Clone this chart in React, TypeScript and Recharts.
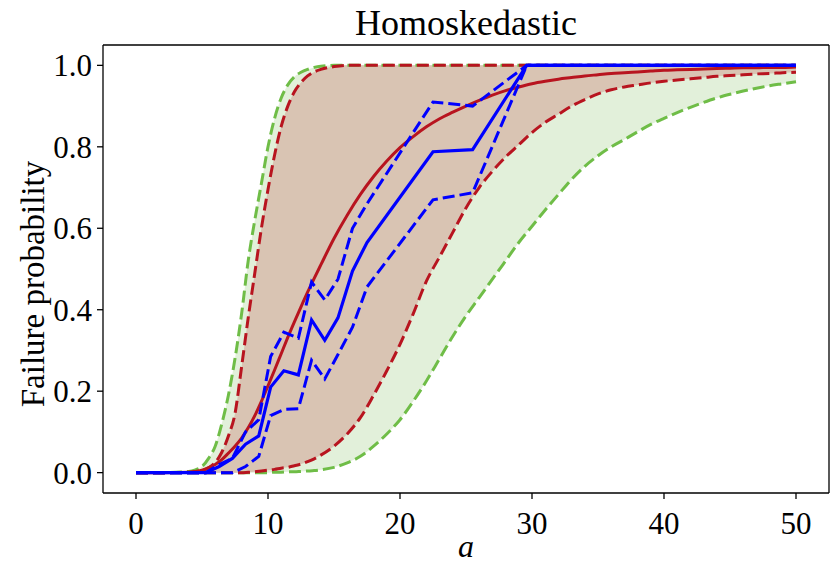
import React from 'react';
import { ComposedChart, Line, Area, XAxis, YAxis, ReferenceLine } from 'recharts';

const curveX = [0, 2, 4, 4.5, 5, 5.5, 6, 6.5, 7, 7.5, 8, 8.5, 9, 9.5, 10, 10.5, 11, 11.5, 12, 12.5, 13, 13.5, 14,
  15, 16, 17, 18, 19, 20, 21, 22, 23, 24, 25, 26, 27, 28, 29, 30, 31, 32, 33, 34, 35, 36, 37, 38, 39, 40, 41, 42, 43, 44, 45, 46, 47, 48, 49, 50];

const greenUpper = [0, 0, 0.003, 0.007, 0.015, 0.035, 0.065, 0.12, 0.19, 0.28, 0.39, 0.52, 0.62, 0.71, 0.8, 0.87, 0.92, 0.952, 0.972, 0.983, 0.99, 0.995, 0.998,
  1, 1, 1, 1, 1, 1, 1, 1, 1, 1, 1, 1, 1, 1, 1, 1, 1, 1, 1, 1, 1, 1, 1, 1, 1, 1, 1, 1, 1, 1, 1, 1, 1, 1, 1, 1];

const redUpper = [0, 0, 0.001, 0.002, 0.005, 0.012, 0.025, 0.05, 0.09, 0.145, 0.26, 0.38, 0.49, 0.6, 0.695, 0.78, 0.85, 0.9, 0.935, 0.958, 0.974, 0.984, 0.99,
  0.997, 1, 1, 1, 1, 1, 1, 1, 1, 1, 1, 1, 1, 1, 1, 1, 1, 1, 1, 1, 1, 1, 1, 1, 1, 1, 1, 1, 1, 1, 1, 1, 1, 1, 1, 1];

const redMedian = [0, 0, 0.001, 0.003, 0.006, 0.012, 0.02, 0.032, 0.048, 0.065, 0.085, 0.11, 0.14, 0.175, 0.213, 0.252, 0.292, 0.332, 0.37, 0.407, 0.443, 0.477, 0.51,
  0.575, 0.632, 0.683, 0.727, 0.765, 0.798, 0.825, 0.849, 0.869, 0.885, 0.9, 0.914, 0.927, 0.938, 0.947, 0.955, 0.961, 0.966, 0.97, 0.974, 0.977, 0.98, 0.982, 0.984, 0.986, 0.988, 0.989, 0.99, 0.991, 0.992, 0.993, 0.994, 0.994, 0.995, 0.995, 0.996];

const redLower = [0, 0, 0, 0, 0, 0, 0, 0, 0, 0, 0, 0.001, 0.002, 0.004, 0.006, 0.008, 0.011, 0.013, 0.017, 0.021, 0.027, 0.034, 0.043,
  0.065, 0.095, 0.135, 0.19, 0.25, 0.315, 0.39, 0.47, 0.53, 0.59, 0.65, 0.7, 0.74, 0.775, 0.805, 0.835, 0.86, 0.88, 0.9, 0.916, 0.93, 0.94, 0.947, 0.952, 0.957, 0.961, 0.964, 0.967, 0.97, 0.973, 0.975, 0.977, 0.979, 0.98, 0.982, 0.983];

const greenLower = [0, 0, 0, 0, 0, 0, 0, 0, 0, 0, 0, 0, 0, 0, 0, 0.001, 0.001, 0.002, 0.002, 0.003, 0.004, 0.005, 0.007,
  0.013, 0.024, 0.04, 0.065, 0.095, 0.13, 0.175, 0.225, 0.28, 0.335, 0.385, 0.43, 0.475, 0.52, 0.565, 0.605, 0.645, 0.683, 0.72, 0.752, 0.778, 0.8, 0.818, 0.837, 0.855, 0.87, 0.884, 0.897, 0.909, 0.92, 0.929, 0.937, 0.944, 0.95, 0.955, 0.96];

const blueX = [0, 5.3, 6.3, 7.3, 8.3, 9.3, 10.2, 11.2, 12.3, 13.3, 14.3, 15.3, 16.4, 17.5, 22.5, 25.5, 29.6, 50];
const blueMid = [0, 0, 0.015, 0.035, 0.07, 0.09, 0.21, 0.25, 0.24, 0.375, 0.325, 0.38, 0.495, 0.565, 0.788, 0.793, 1, 1];
const blueHigh = [0, 0, 0.02, 0.035, 0.1, 0.13, 0.285, 0.345, 0.33, 0.468, 0.424, 0.475, 0.6, 0.66, 0.91, 0.9, 1, 1];
const blueLow = [0, 0, 0, 0, 0.015, 0.04, 0.14, 0.155, 0.157, 0.276, 0.23, 0.29, 0.357, 0.456, 0.67, 0.687, 1, 1];

const xTicks = [0, 10, 20, 30, 40, 50];
const yTicks = [0, 0.2, 0.4, 0.6, 0.8, 1.0];

const curveData = curveX.map((x, i) => ({
  x,
  gU: greenUpper[i],
  gL: greenLower[i],
  rU: redUpper[i],
  rL: redLower[i],
  rM: redMedian[i],
  gBand: [greenLower[i], greenUpper[i]],
  rBand: [redLower[i], redUpper[i]],
}));

const blueData = blueX.map((x, i) => ({ x, mid: blueMid[i], hi: blueHigh[i], lo: blueLow[i] }));

const FONT = '"Liberation Serif", "DejaVu Serif", serif';
const GREEN = '#6fbd47';
const RED = '#b8141f';
const BLUE = '#0000ff';
const DASH = '12 5';

export default function App() {
  const tickStyle = { fontSize: 31, fill: '#000', fontFamily: FONT };
  return (
    <div style={{ position: 'absolute', left: 0, top: 0, width: 831, height: 564, background: '#fff' }}>
      <ComposedChart width={831} height={564} margin={{ top: 45, right: 2, bottom: 31, left: 43 }}>
        <XAxis
          type="number"
          dataKey="x"
          domain={[-2.5, 52.5]}
          allowDataOverflow
          ticks={xTicks}
          height={40}
          tick={tickStyle}
          tickSize={6}
          tickMargin={13}
          stroke="#000"
          axisLine={{ stroke: '#000', strokeWidth: 1.3 }}
          tickLine={{ stroke: '#000', strokeWidth: 1.3 }}
        />
        <YAxis
          type="number"
          domain={[-0.05, 1.05]}
          allowDataOverflow
          ticks={yTicks}
          width={60}
          tick={tickStyle}
          tickSize={6}
          tickMargin={5}
          tickFormatter={(v: number) => v.toFixed(1)}
          axisLine={{ stroke: '#000', strokeWidth: 1.3 }}
          tickLine={{ stroke: '#000', strokeWidth: 1.3 }}
        />
        <Area data={curveData} dataKey="gBand" type="monotone" stroke="none" fill="#e2f0da" fillOpacity={1} isAnimationActive={false} />
        <Area data={curveData} dataKey="rBand" type="monotone" stroke="none" fill="#d9c4b3" fillOpacity={1} isAnimationActive={false} />
        <Line data={curveData} dataKey="gU" type="monotone" stroke={GREEN} strokeWidth={3} strokeDasharray={DASH} dot={false} activeDot={false} isAnimationActive={false} />
        <Line data={curveData} dataKey="gL" type="monotone" stroke={GREEN} strokeWidth={3} strokeDasharray={DASH} dot={false} activeDot={false} isAnimationActive={false} />
        <Line data={curveData} dataKey="rU" type="monotone" stroke={RED} strokeWidth={3} strokeDasharray={DASH} dot={false} activeDot={false} isAnimationActive={false} />
        <Line data={curveData} dataKey="rL" type="monotone" stroke={RED} strokeWidth={3} strokeDasharray={DASH} dot={false} activeDot={false} isAnimationActive={false} />
        <Line data={curveData} dataKey="rM" type="monotone" stroke={RED} strokeWidth={3} dot={false} activeDot={false} isAnimationActive={false} />
        <Line data={blueData} dataKey="lo" type="linear" stroke={BLUE} strokeWidth={3} strokeDasharray={DASH} dot={false} activeDot={false} isAnimationActive={false} />
        <Line data={blueData} dataKey="hi" type="linear" stroke={BLUE} strokeWidth={3} strokeDasharray={DASH} dot={false} activeDot={false} isAnimationActive={false} />
        <Line data={blueData} dataKey="mid" type="linear" stroke={BLUE} strokeWidth={3.2} dot={false} activeDot={false} isAnimationActive={false} />
        <ReferenceLine y={1.05} stroke="#000" strokeWidth={1.3} />
        <ReferenceLine x={52.5} stroke="#000" strokeWidth={1.3} />
      </ComposedChart>
      <svg width={831} height={564} style={{ position: 'absolute', left: 0, top: 0, pointerEvents: 'none' }}>
        <text x={466} y={35} textAnchor="middle" fontSize={36} fontFamily={FONT} fill="#000">Homoskedastic</text>
        <text transform="translate(44,284) rotate(-90)" textAnchor="middle" fontSize={33} fontFamily={FONT} fill="#000">Failure probability</text>
        <text x={466} y={557} textAnchor="middle" fontSize={32} fontStyle="italic" fontFamily={FONT} fill="#000">a</text>
      </svg>
    </div>
  );
}
